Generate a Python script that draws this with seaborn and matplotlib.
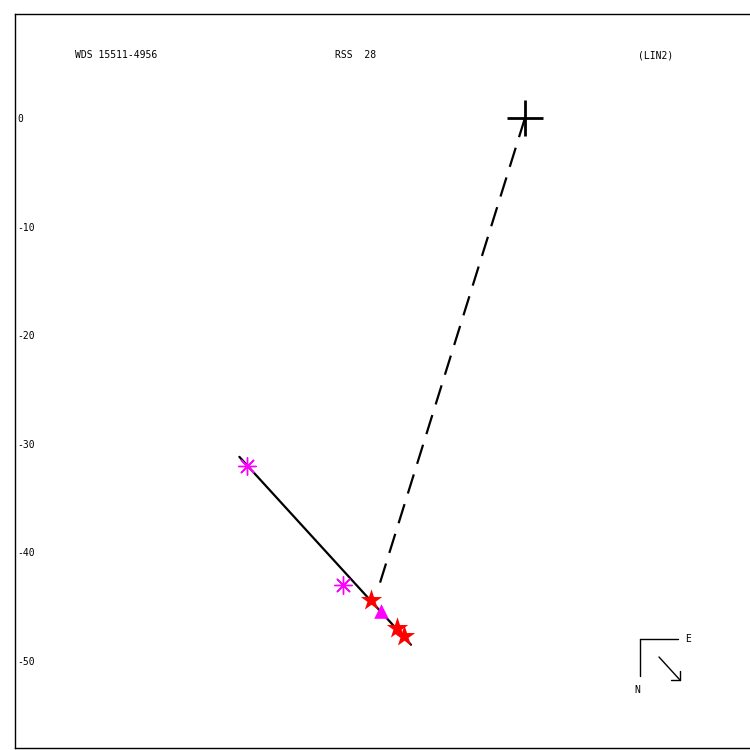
import numpy as np
import pandas as pd
import matplotlib
matplotlib.use("Agg")
import matplotlib.pyplot as plt
import seaborn as sns
from matplotlib.lines import Line2D

sns.set_style("white")
plt.rcParams['font.family'] = ['DejaVu Sans Mono', 'DejaVu Sans']
plt.rcParams['text.color'] = 'black'
plt.rcParams['ytick.color'] = 'black'

# --- data (arcsec offsets, x = east-west, y = north-south) ---
orbit_x = [-26.3, -10.5]
orbit_y = [-31.2, -48.5]
dash_x = [0.0, -13.6]
dash_y = [0.0, -43.6]
ast_x = [-25.6, -16.8]
ast_y = [-32.0, -43.0]
tri_x = [-13.3]
tri_y = [-45.4]
star_x = [-14.2, -11.8, -11.1]
star_y = [-44.4, -47.0, -47.7]
origin_x = [0.0]
origin_y = [0.0]
yticks = [0, -10, -20, -30, -40, -50]
ytick_labels = ["0", "-10", "-20", "-30", "-40", "-50"]
title_left = "WDS 15511-4956"
title_mid = "RSS  28"
title_right = "(LIN2)"

W = 750
fig = plt.figure(figsize=(7.5, 7.5), dpi=100)
ax = fig.add_axes([15 / W, 2 / W, 735 / W, 734 / W])

sns.lineplot(x=orbit_x, y=orbit_y, ax=ax, color='black', lw=1.6, sort=False)
sns.lineplot(x=dash_x, y=dash_y, ax=ax, color='black', lw=1.6, sort=False,
             linestyle=(0, (9, 5)))
sns.scatterplot(x=ast_x, y=ast_y, ax=ax, marker=(8, 2, 0), s=160,
                color='#ff00ff', linewidth=1.0, edgecolor='#ff00ff', zorder=5)
sns.scatterplot(x=tri_x, y=tri_y, ax=ax, marker='^', s=110,
                color='#ff00ff', edgecolor='#ff00ff', linewidth=0, zorder=5)
sns.scatterplot(x=star_x, y=star_y, ax=ax, marker='*', s=260,
                color='red', edgecolor='red', linewidth=0, zorder=6)
ax.plot(origin_x, origin_y, marker='+', markersize=26, mew=2,
        color='black', linestyle='none', zorder=7)

ax.set_xlim(-46.96, 20.72)
ax.set_ylim(-58.01, 9.58)
ax.set_xticks([])
ax.set_yticks(yticks)
ax.set_yticklabels(ytick_labels, ha='left', fontsize=7)
ax.tick_params(axis='y', length=0, pad=-2, labelcolor='black')
ax.set_xlabel("")
ax.set_ylabel("")
for sp in ax.spines.values():
    sp.set_color('black')
    sp.set_linewidth(1.0)
    sp.set_visible(True)
ax.spines['right'].set_visible(False)

def fp(x, y):
    return (x / W, 1 - y / W)

fig.text(*fp(75, 55), title_left, fontsize=7, va='center', ha='left')
fig.text(*fp(335, 55), title_mid, fontsize=7, va='center', ha='left')
fig.text(*fp(638, 55), title_right, fontsize=7, va='center', ha='left')

# compass
def fline(p1, p2):
    a = fp(*p1)
    b = fp(*p2)
    fig.add_artist(Line2D([a[0], b[0]], [a[1], b[1]], color='black', lw=1.0,
                          transform=fig.transFigure))

fline((640, 639), (678, 639))
fline((640, 639), (640, 676))
fline((659, 657), (680, 680))
fline((671, 680), (680, 680))
fline((680, 671), (680, 680))
fig.text(*fp(685, 639), "E", fontsize=7, va='center', ha='left')
fig.text(*fp(637, 690), "N", fontsize=7, va='center', ha='center')

fig.savefig("out.png", dpi=100)
